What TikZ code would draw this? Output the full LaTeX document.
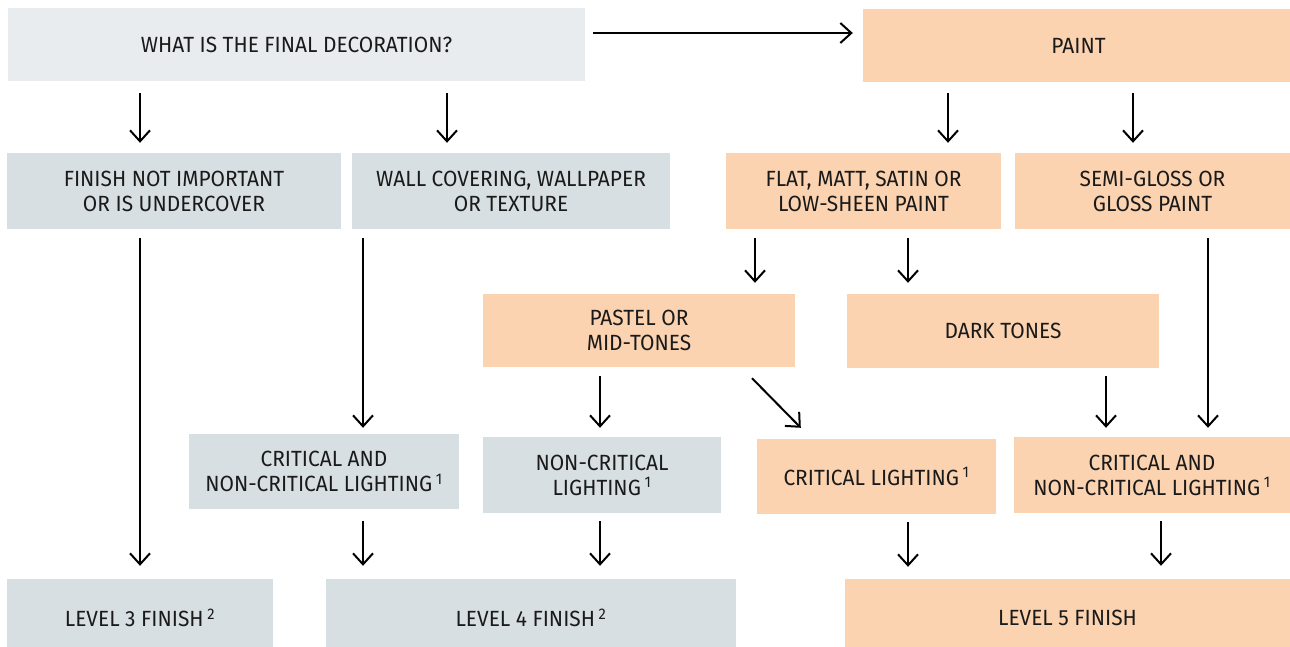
\documentclass[tikz,border=0pt]{standalone}
\usepackage{fontspec}
\setmainfont[FakeStretch=0.95]{Fira Sans}
\usetikzlibrary{arrows.meta}
\definecolor{gtop}{HTML}{E8ECEF}
\definecolor{gbox}{HTML}{D8DFE3}
\definecolor{obox}{HTML}{FBD3B0}
\definecolor{ink}{HTML}{1A1A1A}
\begin{document}
\begin{tikzpicture}[x=1pt,y=-1pt,
  box/.style={inner sep=0pt, align=center, text=ink,
    font=\fontsize{22}{25}\selectfont},
  topbox/.style={box, fill=gtop},
  greybox/.style={box, fill=gbox},
  orbox/.style={box, fill=obox},
  arr/.style={draw=black, line width=2pt,
    -{Straight Barb[length=11pt,width=20pt,line width=2pt]}}]
\useasboundingbox (0,0) rectangle (1290,647);
% nodes
\node[topbox, minimum width=577pt, minimum height=73pt] (q) at (296.5,44.5) {WHAT IS THE FINAL DECORATION?};
\node[orbox, minimum width=437pt, minimum height=73pt] (paint) at (1081.5,45.5) {\hspace*{-6pt}PAINT};
\node[greybox, minimum width=334pt, minimum height=76pt] (A) at (174,191) {FINISH NOT IMPORTANT\\OR IS UNDERCOVER};
\node[greybox, minimum width=318pt, minimum height=76pt] (B) at (511,191) {WALL COVERING, WALLPAPER\\OR TEXTURE};
\node[orbox, minimum width=275pt, minimum height=76pt] (C) at (863.5,191) {FLAT, MATT, SATIN OR\\LOW-SHEEN PAINT};
\node[orbox, minimum width=275pt, minimum height=76pt] (D) at (1152.5,191) {SEMI-GLOSS OR\\GLOSS PAINT};
\node[orbox, minimum width=312pt, minimum height=73pt] (pastel) at (639,330.5) {PASTEL OR\\MID-TONES};
\node[orbox, minimum width=312pt, minimum height=74pt] (dark) at (1003,331) {DARK TONES};
\node[greybox, minimum width=270pt, minimum height=75pt] (E) at (324,471.5) {CRITICAL AND\\NON-CRITICAL LIGHTING\,\textsuperscript{1}};
\node[greybox, minimum width=238pt, minimum height=76pt] (F) at (602,475) {NON-CRITICAL\\LIGHTING\,\textsuperscript{1}};
\node[orbox, minimum width=239pt, minimum height=75pt] (G) at (876.5,476.5) {CRITICAL LIGHTING\,\textsuperscript{1}};
\node[orbox, minimum width=276pt, minimum height=76pt] (H) at (1152,475) {CRITICAL AND\\NON-CRITICAL LIGHTING\,\textsuperscript{1}};
\node[greybox, minimum width=266pt, minimum height=78pt] (L3) at (140,618) {LEVEL 3 FINISH\,\textsuperscript{2}};
\node[greybox, minimum width=410pt, minimum height=78pt] (L4) at (531,618) {LEVEL 4 FINISH\,\textsuperscript{2}};
\node[orbox, minimum width=445pt, minimum height=78pt] (L5) at (1067.5,618) {LEVEL 5 FINISH};
% guide coordinates
\coordinate (x140) at (140,0);
\coordinate (x447) at (447,0);
\coordinate (x948) at (948,0);
\coordinate (x1133) at (1133,0);
\coordinate (x363) at (363,0);
\coordinate (x755) at (755,0);
\coordinate (x908) at (908,0);
\coordinate (x1208) at (1208,0);
\coordinate (x600) at (600,0);
\coordinate (x1106) at (1106,0);
\coordinate (x1161) at (1161,0);
\coordinate (y33) at (0,33);
% connectors
\draw[arr, shorten <=8pt, shorten >=10pt] (q.east |- y33) -- (paint.west |- y33);
\draw[arr, shorten <=12pt, shorten >=10pt] (q.south -| x140) -- (A.north -| x140);
\draw[arr, shorten <=12pt, shorten >=10pt] (q.south -| x447) -- (B.north -| x447);
\draw[arr, shorten <=11pt, shorten >=10pt] (paint.south -| x948) -- (C.north -| x948);
\draw[arr, shorten <=11pt, shorten >=10pt] (paint.south -| x1133) -- (D.north -| x1133);
\draw[arr, shorten <=9pt, shorten >=13pt] (A.south -| x140) -- (L3.north -| x140);
\draw[arr, shorten <=9pt, shorten >=6pt] (B.south -| x363) -- (E.north -| x363);
\draw[arr, shorten <=9pt, shorten >=11pt] (C.south -| x755) -- (pastel.north -| x755);
\draw[arr, shorten <=9pt, shorten >=11pt] (C.south -| x908) -- (dark.north -| x908);
\draw[arr, shorten <=9pt, shorten >=9pt] (D.south -| x1208) -- (H.north -| x1208);
\draw[arr, shorten <=9pt, shorten >=9pt] (pastel.south -| x600) -- (F.north -| x600);
\draw[arr] ([shift={(113,11)}]pastel.south) -- ([shift={(44,-11)}]G.north west);
\draw[arr, shorten <=8pt, shorten >=9pt] (dark.south -| x1106) -- (H.north -| x1106);
\draw[arr, shorten <=12pt, shorten >=13pt] (E.south -| x363) -- (L4.north -| x363);
\draw[arr, shorten <=8pt, shorten >=13pt] (F.south -| x600) -- (L4.north -| x600);
\draw[arr, shorten <=8pt, shorten >=12pt] (G.south -| x908) -- (L5.north -| x908);
\draw[arr, shorten <=8pt, shorten >=13pt] (H.south -| x1161) -- (L5.north -| x1161);
\end{tikzpicture}
\end{document}
